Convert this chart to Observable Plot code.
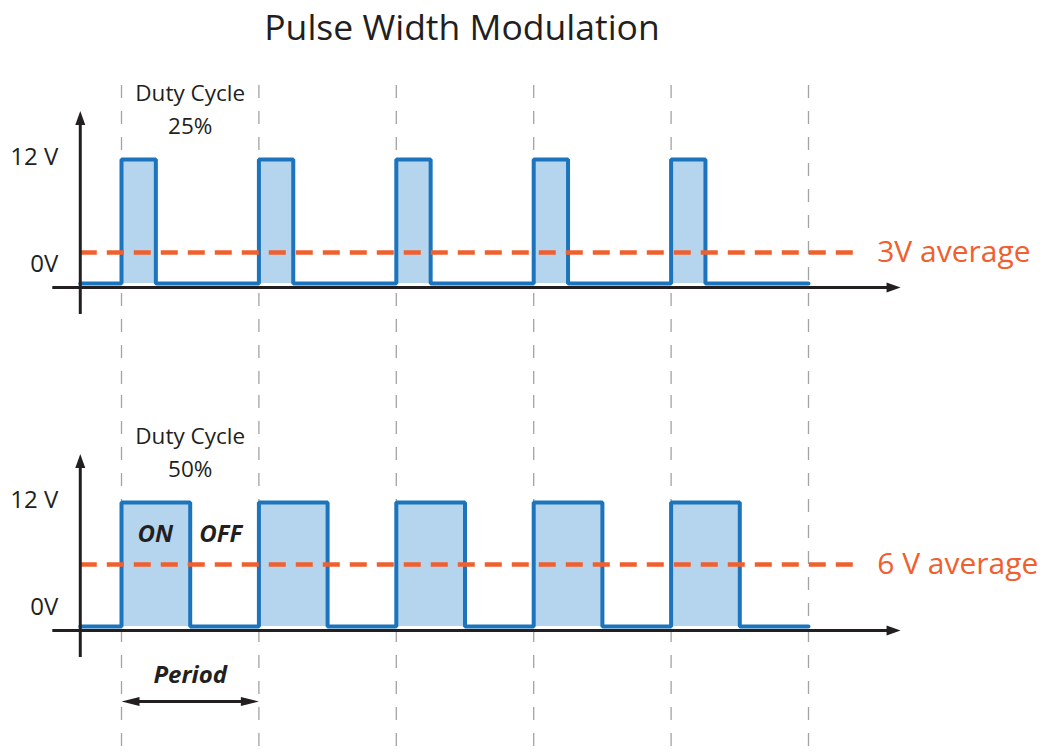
<!DOCTYPE html>
<html><head><meta charset="utf-8">
<script src="https://cdn.jsdelivr.net/npm/d3@7"></script>
<script src="https://cdn.jsdelivr.net/npm/@observablehq/plot@0.6"></script>
<style>
body{margin:0;background:#fff;}
#title{width:1044px;height:52px;line-height:52px;font-family:"Open Sans";font-size:35.5px;color:#231f20;text-align:center;padding-right:120px;box-sizing:border-box;white-space:nowrap;}
#chart svg{display:block;}
</style></head><body>
<div id="title">Pulse Width Modulation</div>
<div id="chart"></div>
<script>
// ---- data ----
const periods = [0, 1, 2, 3, 4];            // pulse index (start of each period)
const periodEdges = [0, 1, 2, 3, 4, 5];     // period boundaries (dashed guides)
const dutyCycles = [0.25, 0.5];
const dutyLabels = ["25%", "50%"];
const dutyTitle = "Duty Cycle";
const highVoltage = 12;
const lowVoltage = 0;
const averageVoltages = [3, 6];
const averageLabels = ["3V average", "6 V average"];
const yTickValues = [12, 0];
const yTickLabels = ["12 V", "0V"];
const phaseLabels = ["ON", "OFF"];
const periodLabel = "Period";

// ---- styles ----
const INK = "#231f20", BLUE = "#1c75bc", FILL = "#b5d5ee", RED = "#f0602f", GRID = "#a3a3a3";
const axisStart = -0.3, axisLeft = -0.5, axisRight = 5.6, arrowTip = 5.67;

function arrowHead(dir, k) {
  return {draw(ctx, size) {
    const r = Math.sqrt(size / Math.PI), L = k * r;
    const p = dir === "up" ? [[0,0],[r,L],[-r,L]]
            : dir === "right" ? [[0,0],[-L,r],[-L,-r]]
            : [[0,0],[L,r],[L,-r]];
    ctx.moveTo(p[0][0], p[0][1]); ctx.lineTo(p[1][0], p[1][1]); ctx.lineTo(p[2][0], p[2][1]); ctx.closePath();
  }};
}
const headUp = arrowHead("up", 2.8), headRight = arrowHead("right", 2.8);
const headR2 = arrowHead("right", 4), headL2 = arrowHead("left", 4);

function panel(i, height, marginBottom, gridTopInset, extra) {
  const duty = dutyCycles[i], avg = averageVoltages[i];
  const signal = [{t: axisStart, v: lowVoltage}];
  periods.forEach(p => { signal.push({t: p, v: highVoltage}); signal.push({t: p + duty, v: lowVoltage}); });
  signal.push({t: periodEdges[periodEdges.length - 1], v: lowVoltage});
  const pulses = periods.map(p => ({x1: p, x2: p + duty, y1: lowVoltage, y2: highVoltage}));
  const marks = [
    Plot.ruleX(periodEdges, {stroke: GRID, strokeWidth: 1.3, strokeDasharray: "13,13", insetTop: -gridTopInset, insetBottom: -marginBottom}),
    Plot.rect(pulses, {x1: "x1", x2: "x2", y1: "y1", y2: "y2", fill: FILL}),
    Plot.line(signal, {x: "t", y: "v", curve: "step-after", stroke: BLUE, strokeWidth: 4, strokeLinejoin: "miter"}),
    Plot.ruleY([avg], {x1: axisStart, x2: 5.33, stroke: RED, strokeWidth: 4.5, strokeDasharray: "17,10"}),
    Plot.ruleY([lowVoltage], {x1: axisLeft, x2: axisRight, dy: 4, stroke: INK, strokeWidth: 3}),
    Plot.dot([arrowTip], {x: d => d, y: lowVoltage, dy: 4, symbol: headRight, r: 5, fill: INK, stroke: null}),
    Plot.ruleX([axisStart], {y1: -3, y2: 16, stroke: INK, strokeWidth: 3}),
    Plot.dot([axisStart], {x: d => d, y: 16.7, symbol: headUp, r: 5, fill: INK, stroke: null}),
    Plot.text([yTickValues[0]], {x: axisStart, y: d => d, text: () => yTickLabels[0], dx: -22, dy: -2, textAnchor: "end", fontSize: 24}),
    Plot.text([yTickValues[1]], {x: axisStart, y: d => d, text: () => yTickLabels[1], dx: -22, dy: -19, textAnchor: "end", fontSize: 24}),
    Plot.text([dutyTitle], {x: 0.5, y: highVoltage, text: d => d, dy: -66, fontSize: 22.5}),
    Plot.text([dutyLabels[i]], {x: 0.5, y: highVoltage, text: d => d, dy: -33, fontSize: 22.5}),
    Plot.text([averageLabels[i]], {x: 5.5, y: avg, text: d => d, textAnchor: "start", fill: RED, fontSize: 30})
  ];
  if (extra) {
    marks.push(
      Plot.text([phaseLabels[0]], {x: duty, y: highVoltage, text: d => d, dx: -17, dy: 32, textAnchor: "end", fontSize: 24, fontWeight: "bold", fontStyle: "italic"}),
      Plot.text([phaseLabels[1]], {x: duty, y: highVoltage, text: d => d, dx: 9, dy: 32, textAnchor: "start", fontSize: 24, fontWeight: "bold", fontStyle: "italic"}),
      Plot.text([periodLabel], {x: 0.5, y: lowVoltage, text: d => d, dy: 49, fontSize: 24, fontWeight: "bold", fontStyle: "italic"}),
      Plot.ruleY([lowVoltage], {x1: 0, x2: 1, dy: 75, insetLeft: 8, insetRight: 8, stroke: INK, strokeWidth: 3}),
      Plot.dot([0], {x: d => d, y: lowVoltage, dy: 75, symbol: headL2, r: 4.5, fill: INK, stroke: null}),
      Plot.dot([1], {x: d => d, y: lowVoltage, dy: 75, symbol: headR2, r: 4.5, fill: INK, stroke: null})
    );
  }
  return Plot.plot({
    width: 1044, height,
    marginLeft: 121, marginRight: 236, marginTop: 107, marginBottom,
    x: {domain: [0, 5], axis: null},
    y: {domain: [lowVoltage, highVoltage], axis: null},
    style: {fontFamily: "Open Sans", color: INK, background: "transparent", overflow: "visible"},
    marks
  });
}

const chart = document.getElementById("chart");
chart.append(panel(0, 343, 112, 74, false));
chart.append(panel(1, 357, 126, 107, true));
</script>
</body></html>
